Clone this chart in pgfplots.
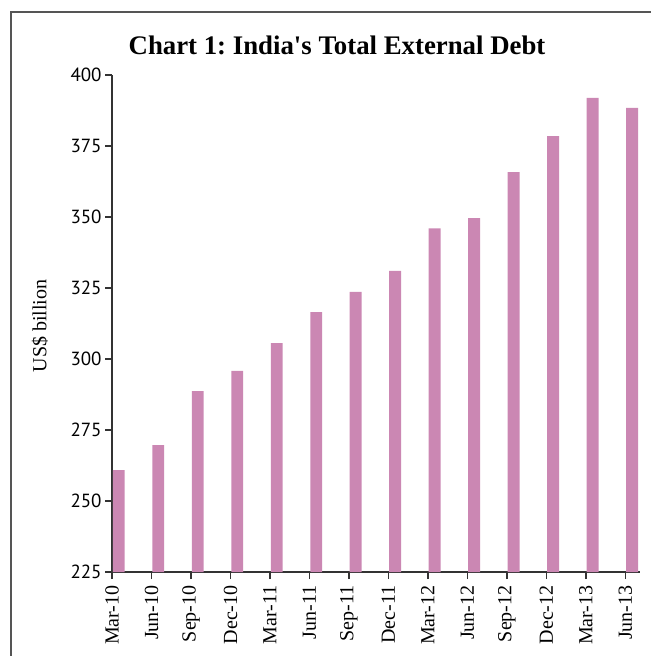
\documentclass[border=0pt]{standalone}
\usepackage{pgfplots}
\pgfplotsset{compat=1.18}
\usepackage{fontspec}
\setmainfont{Liberation Serif}
\newfontfamily\sansnum{PT Sans}
\definecolor{barpink}{HTML}{CB87B3}
\definecolor{framegray}{HTML}{555555}
\definecolor{axisgray}{HTML}{333333}
\pgfplotstableread{
idx value
0 260.9
1 269.7
2 288.7
3 295.8
4 305.6
5 316.5
6 323.6
7 331.0
8 346.0
9 349.6
10 365.8
11 378.5
12 391.9
13 388.4
}\debt
\begin{document}
\frenchspacing
\begin{tikzpicture}
\draw[framegray, line width=1pt] (5.25pt,-330pt) -- (5.25pt,-6.25pt) -- (326pt,-6.25pt);
\node[font=\bfseries\fontsize{13.4}{16}\selectfont] at (168.5pt,-22.5pt) {Chart 1: India\textquotesingle s Total External Debt};
\node[rotate=90, font=\fontsize{10}{12}\selectfont] at (20pt,-163pt) {US\$ billion};
\begin{axis}[
  at={(56pt,-286pt)}, anchor=origin,
  scale only axis, width=264pt, height=248.5pt,
  xmin=0, xmax=13.37, ymin=225, ymax=400,
  ytick={225,250,...,400},
  xtick={0,...,13},
  xticklabels={Mar-10,Jun-10,Sep-10,Dec-10,Mar-11,Jun-11,Sep-11,Dec-11,Mar-12,Jun-12,Sep-12,Dec-12,Mar-13,Jun-13},
  axis x line*=bottom, axis y line*=left,
  axis line style={-, axisgray, line width=0.75pt},
  tick style={axisgray, line width=0.75pt},
  tick align=outside, major tick length=3.5pt,
  xticklabel style={rotate=90, anchor=east, font=\fontsize{10}{12}\selectfont, inner sep=3pt},
  yticklabel style={font=\sansnum\fontsize{9.5}{11}\selectfont, inner sep=1.5pt},
  /pgf/number format/assume math mode=true,
  ybar, bar width=0.3, bar shift=0.17,
]
\addplot[fill=barpink, draw=none] table[x=idx, y=value] {\debt};
\end{axis}
\pgfresetboundingbox
\useasboundingbox (0,0) rectangle (325pt,-328pt);
\end{tikzpicture}
\end{document}
